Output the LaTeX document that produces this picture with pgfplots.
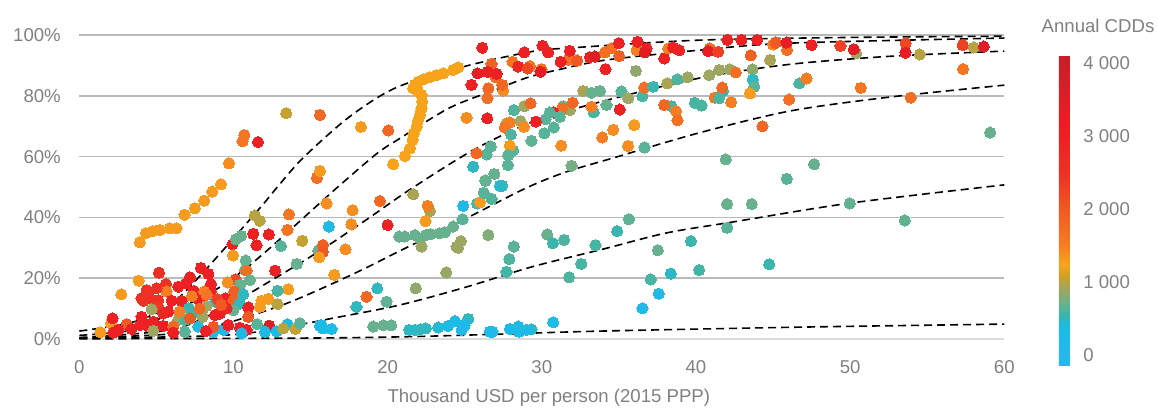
\documentclass[border=0pt]{standalone}
\usepackage{fontspec}
\setmainfont{Liberation Sans}
\usepackage{pgfplots}
\usepackage{pgfplotstable}
\pgfplotsset{compat=1.18}
\definecolor{lab}{RGB}{128,128,128}

% income (kUSD), share with AC (%), annual CDDs
\pgfplotstableread{
x y c
9.19 50.9 1300
8.63 48.5 1300
8.1 45.5 1300
7.5 43 1300
6.83 40.9 1300
6.3 36.4 1300
5.88 36.4 1300
5.23 35.9 1300
4.76 35.5 1300
4.32 34.8 1300
3.93 31.8 1300
3.85 19.2 1300
2.72 14.7 1300
11.39 40.6 1000
11.7 38.9 1000
13.6 41 1600
13.5 35.9 1650
14.46 32.3 1050
11.28 34.6 3000
12.3 34.4 3000
11.5 30.9 3000
9.94 31.2 3000
10.5 33.9 700
10.16 32.8 700
13.08 30.6 650
9.97 27.5 1300
10.79 25.8 700
10.75 22.7 650
10.85 22.5 1700
12.7 22.5 3000
14.1 24.7 700
5.17 21.8 2600
7.89 23.4 3000
8.37 21.4 3000
7.18 20.3 3000
5.62 18.1 2500
6.42 17.2 3000
6.92 18.3 3000
8.54 18.1 3000
7.44 15.8 3000
8.54 15.6 3000
5.66 15.6 1500
8.1 15.6 1500
5.02 16.7 2500
4.37 16.1 2500
4.48 14.5 2500
4.04 13.4 2500
4.58 13.4 2500
4.15 12.6 2500
5.12 12.8 2500
10.14 19.6 2200
9.62 18.6 1400
11.07 19.4 700
10.42 17.8 700
10.05 15.6 1900
10.64 14.7 500
9.49 13.4 3000
10 12.6 1900
8.8 12.3 500
7.78 12.6 3000
5.99 12.6 3000
6.64 12.5 3000
7.3 14.1 1500
10.42 11.7 500
8.97 13 2300
8.26 10.9 900
7.93 9 900
7.11 10.1 550
7.39 8.4 550
13.55 16.4 1300
12.86 15.9 600
12.26 13.2 1300
11.82 12.6 1300
11.72 10.6 1300
12.86 11.5 1000
10.96 10.4 3000
10.96 7.3 2000
9.99 9.5 700
5.12 10.6 2400
4.69 9.8 900
5.77 9 3000
4.04 7.3 3000
5.45 8.4 2800
6.42 6.3 900
4.8 5.7 3000
4.48 4.1 3000
5.45 4.3 3200
3.07 4.9 2000
2.05 5.2 1300
2.16 6.8 3000
1.38 2.2 1300
2.53 3 3000
3.39 3.3 3000
3.93 4.6 3000
2.2 2.1 3000
4.8 2.7 900
6.1 4.1 1800
6.1 2.1 3000
6.85 2.4 650
6.85 6.3 600
7.72 4.1 300
8.69 2.4 350
9.38 3 400
8.69 4 2000
8.21 2.6 3000
9.66 4.6 3200
10.42 3.7 3000
10.85 3 3000
10.53 1.9 350
11.54 4.9 650
12.32 4.4 3500
12.04 2.4 350
12.8 2.6 350
13.5 4.8 400
13.23 3.5 1000
14.03 3.3 1050
14.31 5.2 650
15.6 4.3 300
9.12 8.4 3000
8.8 7.9 3000
9.55 10.1 2800
8 7.3 900
6.5 9 1500
7.8 10 1800
9.2 11.2 2000
8.26 14.5 1600
7.18 6.8 2000
4.15 5.2 3000
16.04 44.6 1400
17.73 42.4 1400
17.64 37.8 1400
19.5 45.4 1800
16.19 37 300
20 37.5 3000
21.66 47.6 950
22.74 42.1 950
22.6 43.8 1500
22.46 38.8 1300
24.9 43.8 250
25.8 44.6 600
26 45 1300
26.74 46.1 620
26.24 48.1 650
26.35 52 650
27.28 50.4 300
27.43 50.4 500
15.5 29.1 700
15.8 30.9 1900
15.8 28.7 2000
15.56 26.9 1300
17.27 29.5 1400
16.54 21.1 1300
20.75 33.7 700
21.1 33.7 700
21.77 34.2 700
22.09 33.1 700
22.48 34.2 700
22.78 34.5 700
23.39 34.8 700
23.71 35.1 700
24.25 37 700
24.86 39.4 650
22.2 30.4 900
24.47 30.4 900
24.57 30 900
24.75 32.2 900
26.53 34.2 800
30.35 34.4 700
31.45 32.6 620
30.72 31.5 550
33.48 30.9 600
28.19 30.4 650
27.89 26.3 620
27.71 22.1 580
32.56 24.7 600
31.77 20.3 620
23.8 21.9 880
21.83 16.7 850
19.33 16.7 500
18.63 13.9 1800
19.93 12.3 680
17.98 10.6 500
15.7 4.6 300
15.8 3.5 300
16.36 3.3 300
19.07 4.1 700
19.72 4.5 700
20.23 4.5 700
21.4 3 500
21.77 3 480
22.14 3.2 500
22.48 3.5 500
23.28 3.8 450
25.23 6.6 500
23.93 4.3 300
24.37 5.9 300
25 4.6 250
24.8 3 150
26.63 2.4 300
26.8 2.4 300
27.93 3.3 350
28.47 4.1 280
28.53 2.4 250
29.33 3.2 480
29 3 300
30.74 5.5 300
42.02 44.4 700
43.62 44.4 700
49.98 44.6 680
35.65 39.4 680
34.89 35.5 550
53.54 39 680
42.02 36.6 650
39.67 32.2 550
37.53 29.2 700
37.07 19.6 600
38.37 21.5 480
40.21 22.7 580
44.75 24.6 550
37.59 14.9 250
36.53 10.1 200
24.58 89.3 1250
24.25 88.5 1250
23.6 87.4 1250
23.17 86.8 1250
22.74 86.1 1250
22.3 85.4 1250
21.98 84.6 1250
21.77 83.6 1250
21.66 82.5 1250
21.98 81.4 1250
22.2 80.3 1250
22.24 78.1 1250
22.2 75.9 1250
22.09 73.7 1250
21.98 72 1250
21.88 69.8 1250
21.7 67.7 1250
21.62 65.5 1250
21.45 62.7 1250
21.12 60.2 1250
26.14 95.8 3000
28.86 94.3 3000
30.05 96.5 3000
30.41 94.3 3000
31.72 91.8 1700
31.82 94.8 3000
31.22 91.2 3000
32.3 91.6 2000
33.12 92.7 3000
33.44 92.9 3500
34.1 94.3 1700
34.52 95.6 1700
35 97.3 3000
35.02 93.1 1900
36.15 95 1500
36.21 97.8 3000
36.8 95.6 3000
36.68 94.3 3500
37.94 92.3 3000
38.2 95.6 1500
38.52 95.9 3000
38.91 95 3000
34.13 88.8 3000
36.1 88.2 850
26.74 90.5 1900
28.1 91.2 1600
29.23 89.8 1600
28.46 89.6 2900
29.08 89 2200
29.98 88.8 1700
29.92 87.9 3300
27 86.1 1700
25.83 87.4 3300
26.46 87.9 3000
27.07 87.2 3000
25.44 83.6 3000
26.53 82.5 1800
27.5 81.7 1400
27.43 83.6 1800
26.48 79.2 1700
25.12 72.8 1400
26.46 72.6 3000
28.19 75.3 620
28.86 76.6 900
29.27 77.5 1800
32.69 81.6 950
33.22 81 700
33.77 81.6 700
35.17 81.4 650
35.6 79.2 900
36.52 79.9 600
36.65 82.7 1700
37.23 83 550
38.13 84.1 950
38.78 85.4 620
39.47 86.1 900
39.93 77.7 600
38.41 76.6 600
37.94 77 1800
38.7 75 1500
38.8 72 1700
35.06 75.5 3000
34.2 77 700
33.37 74.6 600
33.22 76.4 1500
31.39 76.6 650
31.82 75.3 900
32 77.7 1800
31.32 75.9 1700
30.77 74.5 3000
30.52 74.5 650
31.17 73.1 650
30.24 72.3 650
29.62 71.5 3000
28.62 71.7 900
27.71 70.9 1000
27.93 71.2 1500
27.6 69.6 1600
28.84 69.8 1400
30.78 69.6 650
30.16 67.7 650
28 67.3 620
29.33 65.2 680
31.26 63.6 1400
33.92 66.3 1500
34.63 68.8 1400
36 70.4 1300
35.6 63.5 1400
36.66 63 650
26.7 63.3 650
28.15 62 650
27.93 63.6 1300
27.82 60.5 650
26.42 60.7 650
25.77 61.1 1800
27.8 57.2 650
25.55 56.7 500
26.92 54.3 700
26.33 52.2 700
31.93 57 750
40.9 95.6 1700
40.79 94.7 3300
41.44 94.5 2300
42.04 98.4 3000
42.95 98.4 3000
43.97 98.4 3000
45 96.9 1500
45.18 97.5 2000
45.91 95.1 1700
45.87 97.5 3300
47.5 96.7 3000
49.37 96.4 2300
50.39 94 900
50.24 95.3 3400
53.6 97.3 2200
53.59 94.2 3300
54.51 93.6 1000
57.3 96.7 2300
58.02 95.9 1000
58.67 96.2 3400
43.56 93.3 1900
44.81 91.8 950
40.86 86.8 900
41.5 88.5 900
42.2 88.7 900
43.67 88.7 850
42.58 87.7 1700
57.33 88.8 1600
43.69 85.4 500
43.77 83 650
43.5 80.8 1300
46.7 84.1 600
47.17 85.7 1500
50.69 82.6 1600
53.93 79.4 1700
41.76 81.6 550
41.7 82.7 1800
41.22 79.4 1600
41.5 79.2 600
42.28 77.9 1500
46.04 78.8 1700
40.36 76.8 600
44.31 70 1800
59.08 67.9 700
41.94 59.1 700
47.66 57.5 700
45.89 52.7 650
13.42 74.3 1050
15.61 73.7 1800
18.27 69.8 1300
20.04 68.6 1800
10.7 67.1 1600
10.59 65 1600
11.59 64.8 3000
9.71 57.8 1400
15.41 53 1700
15.61 55.3 1300
20.36 57.5 1250
}\points

\begin{document}
\begin{tikzpicture}[x=1bp,y=1bp]
\path[use as bounding box] (0,0) rectangle (1158,407);
\begin{axis}[
    at={(79.3bp,68bp)}, anchor=south west,
    scale only axis, width=925bp, height=304bp,
    xmin=0, xmax=60, ymin=0, ymax=100,
    clip=false,
    axis x line*=bottom, axis y line*=left,
    x axis line style={-, draw=black!14, line width=1.5bp},
    y axis line style={-, draw=none},
    major tick length=0pt,
    font=\fontsize{18.6bp}{22bp}\selectfont,
    tick label style={text=lab},
    xtick={0,10,20,30,40,50,60},
    xticklabels={0,10,20,30,40,50,60},
    xticklabel style={yshift=-18bp},
    ytick={20,40,60,80,100},
    yticklabels={20\%,40\%,60\%,80\%,100\%},
    extra y ticks={0}, extra y tick labels={0\%},
    extra y tick style={ymajorgrids=false},
    yticklabel style={xshift=-15bp},
    ymajorgrids,
    major grid style={draw=black!27, line width=1.5bp},
    xlabel={Thousand USD per person (2015 PPP)},
    xlabel style={text=lab, at={(0.5,0)}, anchor=north, xshift=7bp, yshift=-46bp},
    colormap={cdd}{
        rgb255(-137)=(41,182,240)
        rgb255(400)=(27,188,228)
        rgb255(560)=(60,182,170)
        rgb255(690)=(100,178,145)
        rgb255(930)=(165,165,90)
        rgb255(1080)=(205,160,40)
        rgb255(1233)=(247,165,27)
        rgb255(1507)=(245,125,35)
        rgb255(1986)=(240,90,35)
        rgb255(2466)=(238,50,36)
        rgb255(3150)=(237,28,36)
        rgb255(3700)=(215,30,38)
        rgb255(4110)=(200,30,40)
    },
    point meta min=-137, point meta max=4110,
    colorbar,
    colorbar style={
        at={(parent axis.south east)}, anchor=south west,
        xshift=46bp, yshift=-26bp,
        width=11bp, height=310bp,
        axis line style={draw=none},
        major tick length=0pt,
        ytick={0,1000,2000,3000,4000},
        yticklabels={0,1 000,2 000,3 000,4 000},
        yticklabel pos=right,
        yticklabel style={xshift=10bp},
        tick label style={text=lab, font=\fontsize{18.6bp}{22bp}\selectfont},
    },
]
\addplot[scatter, only marks, mark=*, mark size=5.6bp,
    scatter/use mapped color={draw=mapped color, fill=mapped color},
    mark options={line width=0pt}, point meta=explicit]
    table[x=x, y=y, meta=c] {\points};

\addplot[black, line width=1.6bp, dash pattern=on 8bp off 5bp, smooth] coordinates {
    (0,2.6) (3.5,5.6) (5.9,11.2) (8,21.7) (11.7,43) (12.8,49.7) (14.5,59.5)
    (17.5,73) (20.6,82.8) (25.1,89.8) (29.4,94.6) (32,95.8) (40.2,98.3) (50,99.2) (60,99.6)};
\addplot[black, line width=1.6bp, dash pattern=on 8bp off 5bp, smooth] coordinates {
    (0,1.2) (3.5,3) (5.9,8.5) (9.1,17) (11.7,27) (15.6,44.7) (16.7,49.7) (19.3,61)
    (20.8,66) (24,76) (27,82) (29,85.9) (31,88.5) (34.2,91.8) (40.2,95) (46,97.3) (60,99)};
\addplot[black, line width=1.6bp, dash pattern=on 8bp off 5bp, smooth] coordinates {
    (0,0.5) (5.9,3) (9.1,9.5) (12.5,19.4) (15.6,29) (18.7,39.5) (21.4,49) (25.5,62)
    (29.4,71.4) (33.8,78) (40.2,85.8) (46,90.3) (52.6,93) (60,94.7)};
\addplot[black, line width=1.6bp, dash pattern=on 8bp off 5bp, smooth] coordinates {
    (0,0.3) (6.3,1.8) (9.6,5.3) (12.8,10.5) (14.5,13.9) (16.5,18.4) (18.6,23.4) (20.8,29) (25.1,39.7)
    (29,49.7) (31.6,55) (34.6,59.5) (40.2,67.8) (46.1,75) (52.6,79.6) (60,83.5)};
\addplot[black, line width=1.6bp, dash pattern=on 8bp off 5bp, smooth] coordinates {
    (0,0.2) (9.6,1.3) (14.1,4.6) (16.5,6.9) (20.8,11.2) (25.1,17.1) (29.4,23.8) (34,29.6)
    (38.1,34.9) (42.4,38.5) (50,44.7) (60,50.7)};
\addplot[black, line width=1.6bp, dash pattern=on 8bp off 5bp, smooth] coordinates {
    (0,0.05) (14.3,0.3) (20.8,0.7) (27.3,1.6) (33.8,2.6) (46.7,3.9) (60,4.9)};
\end{axis}
\node[text=lab, font=\fontsize{18.6bp}{22bp}\selectfont] at (1098,381) {Annual CDDs};
\end{tikzpicture}
\end{document}
